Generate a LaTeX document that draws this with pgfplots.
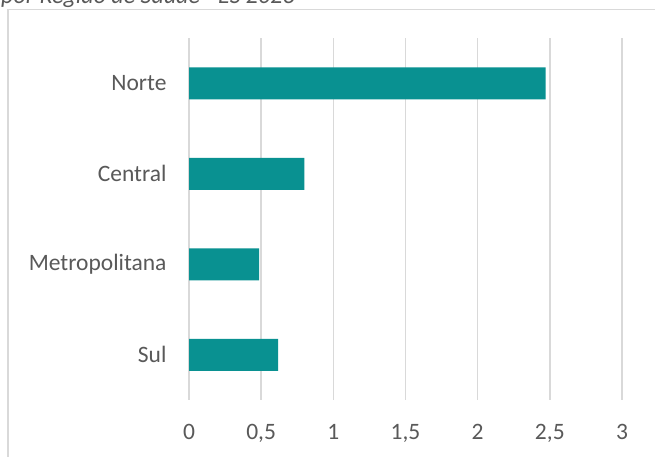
\documentclass[border=0pt]{standalone}
\usepackage{fontspec}
\setmainfont{Carlito}
\usepackage{pgfplots}
\pgfplotsset{compat=1.18}
\definecolor{barc}{HTML}{099191}
\definecolor{gridc}{HTML}{D9D9D9}
\definecolor{txt}{HTML}{595959}
\begin{document}
\begin{tikzpicture}
\useasboundingbox (0,0) rectangle (655bp,-457bp);
\clip (0,0) rectangle (655bp,-457bp);
\fill[white] (0,0) rectangle (655bp,-457bp);
\node[anchor=base west, inner sep=0, text=txt, font=\fontsize{24bp}{28bp}\selectfont\itshape] at (1bp,-3bp) {por Região de Saúde - ES 2023};
\draw[gridc, line width=1.5bp] (8bp,-470bp) -- (8bp,-9.5bp) -- (670bp,-9.5bp);
\begin{axis}[
  at={(189bp,-400bp)}, anchor=south west,
  scale only axis, width=433bp, height=362bp,
  xbar, bar width=32bp,
  xmin=0, xmax=3,
  ymin=-0.5, ymax=3.5, y dir=reverse,
  xtick={0,0.5,...,3},
  ytick={0,1,2,3},
  yticklabels={Norte,Central,Metropolitana,Sul},
  axis line style={draw=none},
  major tick length=0pt,
  xmajorgrids, grid style={gridc, line width=1.4bp},
  tick label style={text=txt, font=\fontsize{23.5bp}{28bp}\selectfont},
  /pgf/number format/assume math mode=true,
  /pgf/number format/use comma,
  xticklabel style={yshift=-21bp},
  yticklabel style={xshift=-19bp},
]
\addplot[fill=barc, draw=none] coordinates {(2.47,0) (0.80,1) (0.485,2) (0.617,3)};
\end{axis}
\end{tikzpicture}
\end{document}
